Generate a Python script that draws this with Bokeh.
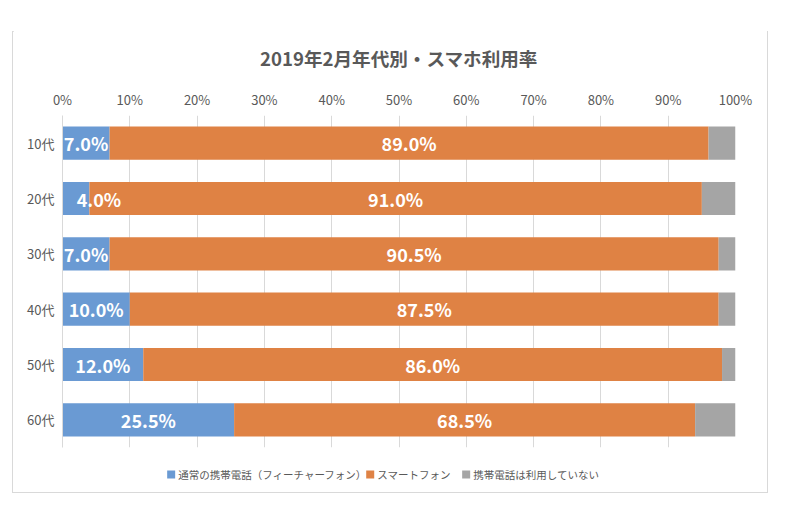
from bokeh.plotting import figure
from bokeh.layouts import column
from bokeh.models import (FactorRange, Range1d, FixedTicker, PrintfTickFormatter,
                          ColumnDataSource, Title)
from bokeh.core.properties import value
from bokeh.embed import file_html
from bokeh.resources import INLINE

# ---- data ----
categories = ["10代", "20代", "30代", "40代", "50代", "60代"]
feature_phone = [7.0, 4.0, 7.0, 10.0, 12.0, 25.5]
smartphone = [89.0, 91.0, 90.5, 87.5, 86.0, 68.5]
no_phone = [4.0, 5.0, 2.5, 2.5, 2.0, 6.0]
series_names = ["通常の携帯電話（フィーチャーフォン）", "スマートフォン", "携帯電話は利用していない"]
x_ticks = [0, 10, 20, 30, 40, 50, 60, 70, 80, 90, 100]
title_text = "2019年2月年代別・スマホ利用率"

# ---- style ----
colors = ["#6A9AD3", "#DF8244", "#A5A5A5"]
text_gray = "#595959"
line_gray = "#D9D9D9"
FONT = "Noto Sans CJK JP"
label_x_offsets = [0, 23, 0, 0, 0, 0]
W = 754

sp_right = [a + b for a, b in zip(feature_phone, smartphone)]
np_right = [a + b + c for a, b, c in zip(feature_phone, smartphone, no_phone)]

src = ColumnDataSource(dict(
    cat=categories,
    fp_left=[0] * len(categories), fp_right=feature_phone,
    sp_left=feature_phone, sp_right=sp_right,
    np_left=sp_right, np_right=np_right,
    fp_mid=[v / 2 for v in feature_phone],
    sp_mid=[a + b / 2 for a, b in zip(feature_phone, smartphone)],
    fp_txt=["%.1f%%" % v for v in feature_phone],
    sp_txt=["%.1f%%" % v for v in smartphone],
    fp_off=label_x_offsets,
))

p = figure(width=W, height=436,
           y_range=FactorRange(factors=list(reversed(categories))),
           x_range=Range1d(0, 100),
           x_axis_location="above",
           output_backend="svg", toolbar_location=None,
           min_border_left=49, min_border_right=32,
           min_border_top=81, min_border_bottom=14)
p.margin = (-7, 0, 0, 0)
p.outline_line_color = None
p.background_fill_color = "white"
p.border_fill_color = "white"

h = 0.6
r1 = p.hbar(y="cat", left="fp_left", right="fp_right", height=h, source=src,
            fill_color=colors[0], line_color=None)
r2 = p.hbar(y="cat", left="sp_left", right="sp_right", height=h, source=src,
            fill_color=colors[1], line_color=None)
r3 = p.hbar(y="cat", left="np_left", right="np_right", height=h, source=src,
            fill_color=colors[2], line_color=None)

p.text(x="fp_mid", y="cat", text="fp_txt", source=src, x_offset="fp_off",
       text_align="center", text_baseline="middle", text_color="white",
       text_font=value(FONT), text_font_size="18px", text_font_style="bold")
p.text(x="sp_mid", y="cat", text="sp_txt", source=src,
       text_align="center", text_baseline="middle", text_color="white",
       text_font=value(FONT), text_font_size="18px", text_font_style="bold")

xa = p.xaxis[0]
xa.ticker = FixedTicker(ticks=x_ticks)
xa.formatter = PrintfTickFormatter(format="%d%%")
xa.axis_line_color = None
xa.major_tick_line_color = None
xa.minor_tick_line_color = None
xa.major_tick_out = 0
xa.minor_tick_out = 0
xa.major_label_text_color = text_gray
xa.major_label_text_font = FONT
xa.major_label_text_font_size = "13px"
xa.major_label_standoff = 7

ya = p.yaxis[0]
ya.axis_line_color = line_gray
ya.major_tick_line_color = None
ya.minor_tick_line_color = None
ya.major_tick_out = 0
ya.major_label_text_color = text_gray
ya.major_label_text_font = FONT
ya.major_label_text_font_size = "13px"
ya.major_label_standoff = 8

p.xgrid.ticker = FixedTicker(ticks=x_ticks)
p.xgrid.grid_line_color = line_gray
p.ygrid.grid_line_color = None

p.title = Title(text=title_text, align="center", text_font=FONT,
                text_font_size="18.6px", text_font_style="bold",
                text_color=text_gray, standoff=32)

# ---- legend strip (drawn with glyphs, laid out from label lengths) ----
LH = 31
fs = 10.5
sq = 8
sq_gap = 4
item_gap = 22
widths = [sq + sq_gap + len(s) * fs for s in series_names]
total = sum(widths) + item_gap * (len(widths) - 1)
start = (W - total) / 2 - 25
sq_x, tx_x = [], []
cur = start
for wdt in widths:
    sq_x.append(cur + sq / 2)
    tx_x.append(cur + sq + sq_gap)
    cur += wdt + item_gap
ly = LH - 13
lsrc = ColumnDataSource(dict(sx=sq_x, tx=tx_x, y=[ly] * 3, name=series_names, c=colors))

lf = figure(width=W, height=LH, x_range=Range1d(0, W), y_range=Range1d(0, LH),
            output_backend="svg", toolbar_location=None,
            min_border=0, min_border_left=0, min_border_right=0,
            min_border_top=0, min_border_bottom=0)
lf.axis.visible = False
lf.grid.visible = False
lf.outline_line_color = None
lf.border_fill_color = "white"
lf.scatter(x="sx", y="y", marker="square", size=sq, fill_color="c", line_color=None, source=lsrc)
lf.text(x="tx", y="y", text="name", source=lsrc, text_align="left", text_baseline="middle",
        text_color=text_gray, text_font=value(FONT), text_font_size="%spx" % fs)

layout = column(p, lf, spacing=0)
layout.margin = (31, 0, 0, 12)
layout.styles = {"border": "1px solid #D9D9D9"}

open("out.html", "w").write(file_html(layout, INLINE))
